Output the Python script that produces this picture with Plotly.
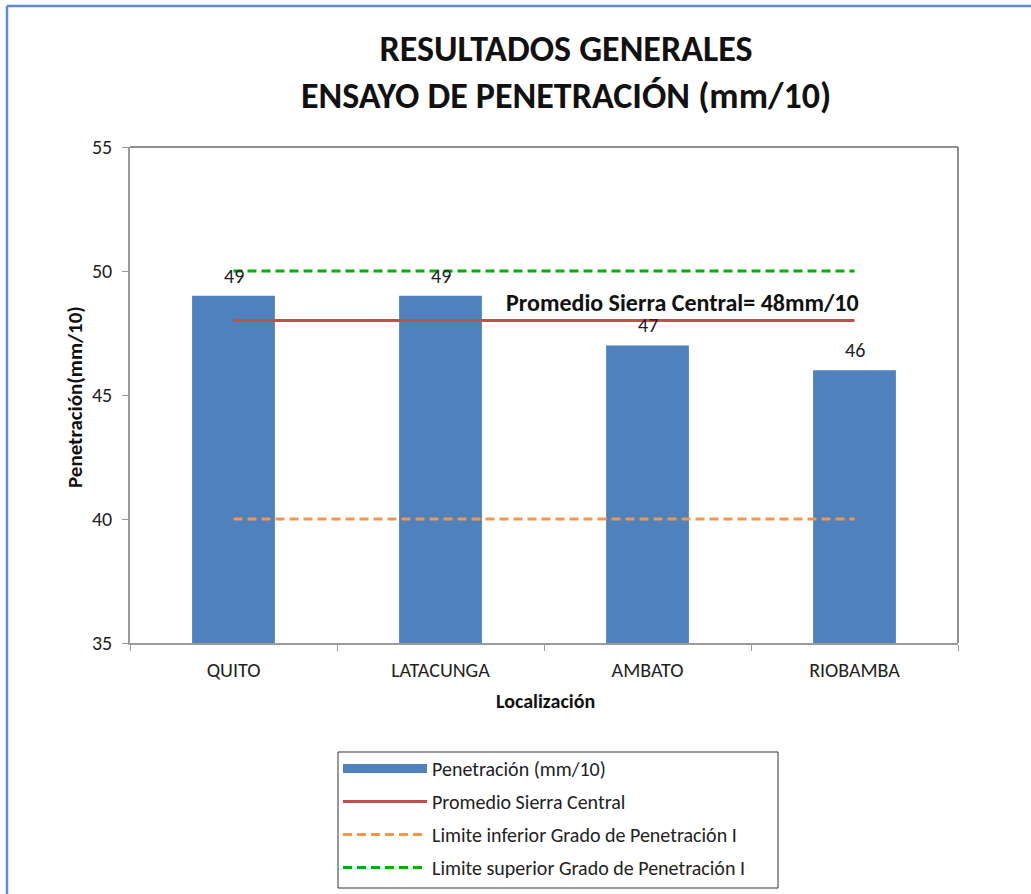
import plotly.graph_objects as go

categorias = ["QUITO", "LATACUNGA", "AMBATO", "RIOBAMBA"]
penetracion = [49, 49, 47, 46]
promedio = [48, 48, 48, 48]
limite_inferior = [40, 40, 40, 40]
limite_superior = [50, 50, 50, 50]
y_ticks = [35, 40, 45, 50, 55]

FONT = "Carlito, Calibri, 'Open Sans', sans-serif"

W, H = 1031, 894
L, R, T, B = 130, 958, 147, 643

def px_x(p):
    return (p - L) / (R - L)

def px_y(p):
    return (B - p) / (B - T)

fig = go.Figure()
fig.add_trace(go.Bar(
    x=categorias, y=penetracion, name="Penetración (mm/10)",
    marker=dict(color="#4f81bd", line=dict(width=0)), width=0.4,
    showlegend=False, legendgroup="a",
))
# legend entry for the bars (wide rectangle key as in the reference)
fig.add_trace(go.Scatter(
    x=[None], y=[None], mode="lines", name="Penetración (mm/10)",
    line=dict(color="#4f81bd", width=9), legendgroup="a", hoverinfo="skip",
))
fig.add_trace(go.Scatter(
    x=categorias, y=promedio, mode="lines", name="Promedio Sierra Central",
    line=dict(color="#c0504d", width=3), legendgroup="b",
))
fig.add_trace(go.Scatter(
    x=categorias, y=limite_inferior, mode="lines",
    name="Limite inferior Grado de Penetración I",
    line=dict(color="#f79646", width=3, dash="9px,5px"), legendgroup="c",
))
fig.add_trace(go.Scatter(
    x=categorias, y=limite_superior, mode="lines",
    name="Limite superior Grado de Penetración I",
    line=dict(color="#00b000", width=3, dash="9px,5px"), legendgroup="d",
))

# data labels above bars
for c, v in zip(categorias, penetracion):
    fig.add_annotation(
        x=c, y=v, text=str(v), showarrow=False, borderpad=0,
        xref="x", yref="y", yanchor="bottom", yshift=7,
        font=dict(family=FONT, size=20, color="#222"),
    )

fig.add_annotation(
    text="<b>Promedio Sierra Central= 48mm/10</b>",
    xref="paper", x=px_x(860), xanchor="right", borderpad=0,
    yref="y", y=promedio[0], yanchor="bottom", yshift=3,
    showarrow=False, font=dict(family=FONT, size=24, color="#111"),
)

# axis titles
fig.add_annotation(
    text="<b>Localización</b>", xref="paper", x=px_x(545), xanchor="center",
    yref="paper", y=px_y(701), yanchor="middle", showarrow=False,
    font=dict(family=FONT, size=20, color="#111"),
)
fig.add_annotation(
    text="<b>Penetración(mm/10)</b>", xref="paper", x=px_x(75), xanchor="center",
    yref="paper", y=px_y(397), yanchor="middle", showarrow=False, textangle=-90,
    font=dict(family=FONT, size=21, color="#111"),
)

# outer chart border (blue)
fig.add_shape(type="line", xref="paper", yref="paper",
              x0=px_x(7), x1=px_x(1040), y0=px_y(6), y1=px_y(6),
              line=dict(color="#5b8bd0", width=2.5))
fig.add_shape(type="line", xref="paper", yref="paper",
              x0=px_x(7), x1=px_x(7), y0=px_y(6), y1=px_y(900),
              line=dict(color="#5b8bd0", width=2.5))
# plot area top/right darker border
fig.add_shape(type="line", xref="paper", yref="paper",
              x0=0, x1=1, y0=1, y1=1, line=dict(color="#6b6b6b", width=1.5))
fig.add_shape(type="line", xref="paper", yref="paper",
              x0=1, x1=1, y0=0, y1=1, line=dict(color="#6b6b6b", width=1.5))
# legend frame
fig.add_shape(type="rect", xref="paper", yref="paper",
              x0=px_x(338), x1=px_x(778), y0=px_y(752), y1=px_y(888),
              line=dict(color="#333", width=1), fillcolor="rgba(0,0,0,0)")

fig.update_layout(
    width=W, height=H,
    margin=dict(l=L, r=W - R, t=T, b=H - B, autoexpand=False),
    paper_bgcolor="white", plot_bgcolor="white",
    font=dict(family=FONT, color="#222"),
    title=dict(
        text="<b>RESULTADOS GENERALES<br>ENSAYO DE PENETRACIÓN (mm/10)</b>",
        x=566 / W, xanchor="center", xref="container",
        y=1 - 61 / H, yanchor="middle", yref="container",
        font=dict(family=FONT, size=36, color="#111"),
    ),
    showlegend=True,
    legend=dict(
        x=px_x(338), xanchor="left", y=px_y(749), yanchor="top",
        borderwidth=0, bgcolor="rgba(0,0,0,0)",
        font=dict(family=FONT, size=20, color="#222"),
        traceorder="grouped", tracegroupgap=4,
        itemwidth=84,
    ),
    bargap=0.6,
)
fig.update_xaxes(
    showline=True, linecolor="#9a9a9a", linewidth=1.5,
    ticks="outside", ticklen=6, tickcolor="#9a9a9a", tickson="boundaries",
    tickfont=dict(family=FONT, size=20, color="#222"), ticklabelstandoff=8,
    showgrid=False, automargin=False,
)
fig.update_yaxes(
    range=[35, 55], tickvals=y_ticks,
    showline=True, linecolor="#9a9a9a", linewidth=1.5,
    ticks="outside", ticklen=6, tickcolor="#9a9a9a",
    tickfont=dict(family=FONT, size=20, color="#222"), ticklabelstandoff=6,
    showgrid=False, zeroline=False, automargin=False,
)

fig.write_html("out.html")
